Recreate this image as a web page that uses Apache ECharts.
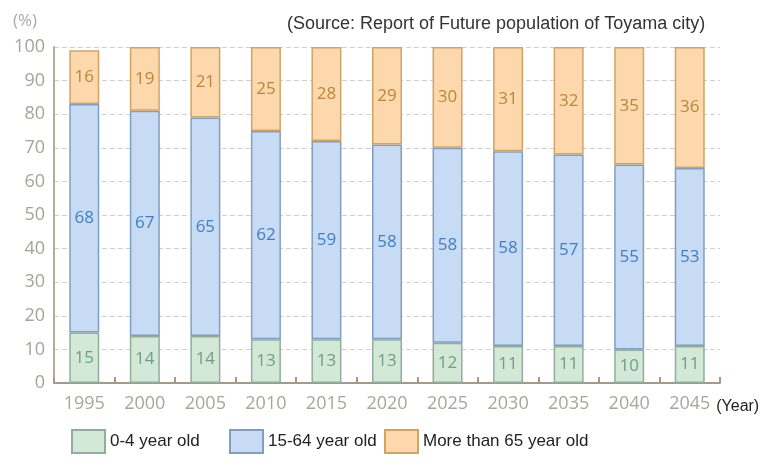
<!DOCTYPE html>
<html>
<head>
<meta charset="utf-8">
<script src="https://cdn.jsdelivr.net/npm/echarts@6/dist/echarts.min.js"></script>
<style>
  html, body { margin: 0; padding: 0; background: #fff; }
  #chart { width: 760px; height: 461px; }
</style>
</head>
<body>
<div id="chart"></div>
<script>
// 年次と年齢区分別の構成比 (%)
const years = ['1995', '2000', '2005', '2010', '2015', '2020', '2025', '2030', '2035', '2040', '2045']
const young = [15, 14, 14, 13, 13, 13, 12, 11, 11, 10, 11]
const working = [68, 67, 65, 62, 59, 58, 58, 58, 57, 55, 53]
const elderly = [16, 19, 21, 25, 28, 29, 30, 31, 32, 35, 36]
const seriesNames = ['0-4 year old', '15-64 year old', 'More than 65 year old']

const chart = echarts.init(document.getElementById('chart'))

const labelFont = '"Open Sans", "Noto Sans", sans-serif'
const plainFont = '"Liberation Sans", Arial, sans-serif'

function barSeries(name, data, fill, border, textColor) {
  return {
    name: name,
    type: 'bar',
    stack: 'total',
    barWidth: 30,
    data: data,
    itemStyle: { color: fill, borderColor: border, borderWidth: 1.5 },
    label: {
      show: true,
      position: 'inside',
      color: textColor,
      fontSize: 17,
      fontFamily: labelFont
    }
  }
}

// 凡例は項目ごとに位置を合わせる
function legendItem(name, left) {
  return {
    left: left,
    bottom: 2,
    itemWidth: 33,
    itemHeight: 23,
    itemGap: 0,
    icon: 'rect',
    textStyle: { color: '#222', fontSize: 17, fontFamily: plainFont },
    data: [name]
  }
}

const option = {
  backgroundColor: '#fff',
  animation: false,
  title: [
    {
      text: '(%)',
      left: 8,
      top: 8,
      textStyle: { color: '#aaa', fontSize: 17, fontWeight: 'normal', fontFamily: labelFont }
    },
    {
      text: '(Source: Report of Future population of Toyama city)',
      left: 282,
      top: 10,
      textStyle: { color: '#333', fontSize: 18, fontWeight: 'normal', fontFamily: plainFont }
    }
  ],
  grid: { left: 54, right: 40, top: 47, bottom: 78, outerBoundsMode: 'none' },
  legend: [
    legendItem(seriesNames[0], 66),
    legendItem(seriesNames[1], 224),
    legendItem(seriesNames[2], 379)
  ],
  xAxis: {
    type: 'category',
    data: years,
    name: '(Year)',
    nameLocation: 'end',
    nameGap: -10,
    nameTextStyle: {
      color: '#222',
      fontSize: 16,
      fontFamily: plainFont,
      verticalAlign: 'top',
      padding: [16, 0, 0, 0]
    },
    axisLine: { lineStyle: { color: '#a8988a', width: 2 } },
    axisTick: { show: true, inside: true, length: 6, lineStyle: { color: '#a8988a', width: 2 } },
    axisLabel: { color: '#aaa59c', fontSize: 18, margin: 12, fontFamily: labelFont }
  },
  yAxis: {
    type: 'value',
    min: 0,
    max: 100,
    interval: 10,
    axisLine: { show: true, lineStyle: { color: '#b8aa9c', width: 2 } },
    axisTick: { show: false },
    axisLabel: { color: '#a5a39a', fontSize: 18, margin: 9, fontFamily: labelFont },
    splitLine: { lineStyle: { color: '#d0d0d0', type: [5, 3] } }
  },
  series: [
    barSeries(seriesNames[0], young, '#d4e8d8', '#8fae9c', '#6e9e84'),
    barSeries(seriesNames[1], working, '#c8dbf4', '#7f9ec4', '#3f7fc2'),
    barSeries(seriesNames[2], elderly, '#fcd8ac', '#d3a364', '#b8873a')
  ]
}

chart.setOption(option)
</script>
</body>
</html>
